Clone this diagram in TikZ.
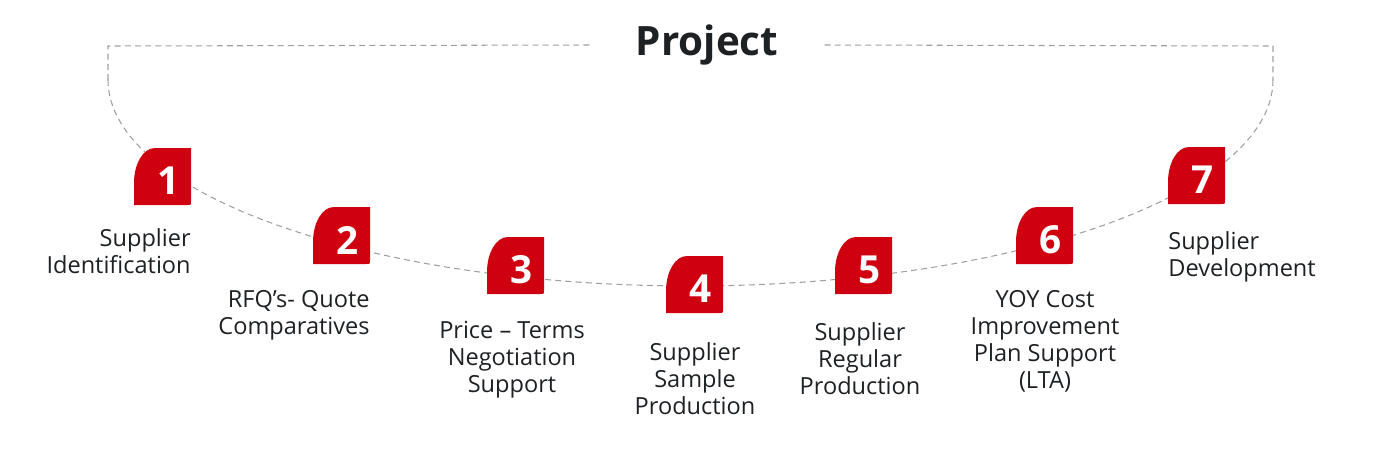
\documentclass[tikz,border=0pt]{standalone}
\usepackage{fontspec}
\setmainfont{Open Sans}
\usepackage{tikz}
\usetikzlibrary{positioning}
\usepackage{xcolor}
\definecolor{badgered}{HTML}{CF0010}
\definecolor{inkdark}{HTML}{1E2124}
\tikzset{
  badgenum/.style={text=white,font=\fontsize{22}{24}\selectfont\bfseries,inner sep=0pt},
  steplabel/.style={text=inkdark,font=\fontsize{13.4}{15.3}\selectfont,inner sep=0pt},
  trail/.style={gray!75,line width=0.6pt,dash pattern=on 3.4pt off 2.4pt}
}

\begin{document}
\begin{tikzpicture}[x=0.02cm,y=-0.02cm,line cap=butt]
\useasboundingbox (0,0) rectangle (1394,464);
% title and dashed frame
\node[text=inkdark,font=\fontsize{23}{24}\selectfont\bfseries,inner xsep=0.92cm,inner ysep=0pt] (title) at (707,45) {Project};
\draw[trail] (title.west) -- (108,46) -- (108,80);
\draw[trail] (title.east) -- (1273,46) -- (1273,80);
\draw[trail] plot[domain=180:360,samples=120] ({690.5+582.5*cos(\x)},{80-206*sin(\x)});
% badges
\foreach \n/\bx/\by in {1/134/148,2/313/207,3/487/237,4/666/256,5/835/237,6/1016/207,7/1168/147}{
  \fill[badgered] (\bx,\by+57) -- (\bx,\by+35) .. controls (\bx,\by+16) and (\bx+9,\by) .. (\bx+21,\by)
    -- (\bx+57,\by) -- (\bx+57,\by+53) .. controls (\bx+57,\by+57) .. (\bx+53,\by+57) -- cycle;
  \node[badgenum] (b\n) at (\bx+35,\by+33) {\n};
}
% step labels
\node[steplabel,align=right,anchor=north east] (l1) at (191,228) {Supplier\\Identification};
\node[steplabel,align=right,anchor=north east] (l2) at (370,290) {RFQ’s- Quote\\Comparatives};
\node[steplabel,align=center,anchor=north] (l3) at (512,321) {Price – Terms\\Negotiation\\Support};
\node[steplabel,align=center,anchor=north] (l4) at (695,342) {Supplier\\Sample\\Production};
\node[steplabel,align=center,anchor=north] (l5) at (860,322) {Supplier\\Regular\\Production};
\node[steplabel,align=center,anchor=north] (l6) at (1045,290) {YOY Cost\\Improvement\\Plan Support\\(LTA)};
\node[steplabel,align=left,anchor=north west] (l7) at (1168,231) {Supplier\\Development};
\end{tikzpicture}
\end{document}
